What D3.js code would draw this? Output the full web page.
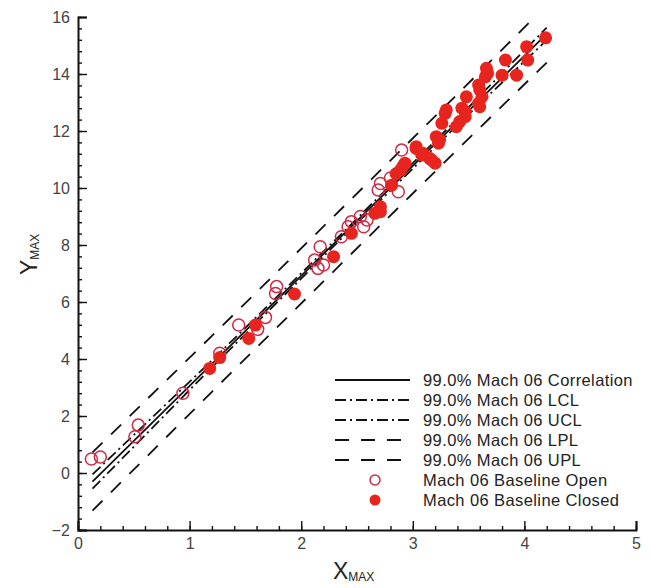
<!DOCTYPE html>
<html>
<head>
<meta charset="utf-8">
<script src="https://cdn.jsdelivr.net/npm/d3@7"></script>
<style>
  body { margin: 0; background: #fff; }
</style>
</head>
<body>
<div id="chart"></div>
<script>
// values
const openX = [0.12, 0.20, 0.51, 0.54, 0.94, 1.27, 1.44, 1.61, 1.68, 1.77, 1.78, 2.12, 2.15, 2.17, 2.20,
  2.36, 2.42, 2.45, 2.53, 2.56, 2.59, 2.69, 2.71, 2.80, 2.87, 2.90];
const openY = [0.49, 0.56, 1.27, 1.68, 2.80, 4.20, 5.19, 5.04, 5.46, 6.30, 6.54, 7.47, 7.18, 7.94, 7.30,
  8.29, 8.64, 8.82, 9.00, 8.64, 8.88, 9.93, 10.16, 10.35, 9.87, 11.33];

const closedX = [1.18, 1.27, 1.53, 1.59, 1.94, 2.29, 2.45, 2.66, 2.71, 2.71, 2.81, 2.85, 2.89, 2.91, 2.93,
  3.03, 3.03, 3.08, 3.09, 3.15, 3.17, 3.20, 3.21, 3.23, 3.24, 3.26, 3.29, 3.30, 3.39, 3.42, 3.44, 3.47,
  3.47, 3.48, 3.59, 3.60, 3.59, 3.60, 3.62, 3.65, 3.66, 3.67, 3.80, 3.83, 3.93, 4.02, 4.03, 4.19];
const closedY = [3.67, 4.05, 4.72, 5.19, 6.28, 7.59, 8.41, 9.11, 9.17, 9.34, 10.10, 10.50, 10.63, 10.75, 10.87,
  11.39, 11.45, 11.16, 11.22, 11.04, 10.98, 10.87, 11.80, 11.57, 11.68, 12.27, 12.62, 12.74, 12.15, 12.33, 12.80, 12.50,
  12.68, 13.20, 12.97, 12.85, 13.61, 13.44, 13.20, 13.90, 14.20, 14.02, 13.96, 14.49, 13.96, 14.96, 14.49, 15.27];

const lineX = [0.13, 1.2, 2.4, 3.4, 4.2];
const corrY = [-0.30, 3.83, 8.46, 12.32, 15.41];
const lclY = [-0.55, 3.71, 8.38, 12.21, 15.19];
const uclY = [-0.05, 3.95, 8.54, 12.43, 15.63];
const lplY = [-1.32, 2.85, 7.50, 11.35, 14.40];
const uplY = [0.72, 4.81, 9.42, 13.29, 16.42];

const xTicks = [0, 1, 2, 3, 4, 5];
const yTicks = [-2, 0, 2, 4, 6, 8, 10, 12, 14, 16];

const legendLabels = ['99.0% Mach 06 Correlation', '99.0% Mach 06 LCL', '99.0% Mach 06 UCL',
  '99.0% Mach 06 LPL', '99.0% Mach 06 UPL', 'Mach 06 Baseline Open', 'Mach 06 Baseline Closed'];

const width = 651, height = 588;
const font = 'Liberation Sans, Arial, Helvetica, sans-serif';
const redFill = '#e8241f';
const openStroke = '#cf2a45';

const dashes = {
  solid: null,
  dashdot: '11,4,2,4',
  dash: '14,12',
};

const svg = d3.select('#chart')
  .append('svg')
  .attr('width', width)
  .attr('height', height)
  .style('font-family', font);

const x = d3.scaleLinear().domain([0, 5]).range([78, 636]);
const y = d3.scaleLinear().domain([-2, 16]).range([530, 17]);

svg.append('clipPath').attr('id', 'plotClip')
  .append('rect')
  .attr('x', x(0)).attr('y', y(16))
  .attr('width', x(5) - x(0)).attr('height', y(-2) - y(16));

// lines
const line = d3.line().x((d) => x(d[0])).y((d) => y(d[1]));
const seriesLines = [
  {ys: corrY, dash: dashes.solid},
  {ys: lclY, dash: dashes.dashdot},
  {ys: uclY, dash: dashes.dashdot},
  {ys: lplY, dash: dashes.dash},
  {ys: uplY, dash: dashes.dash},
];

const lineG = svg.append('g').attr('clip-path', 'url(#plotClip)');
seriesLines.forEach((s) => {
  lineG.append('path')
    .datum(lineX.map((v, i) => [v, s.ys[i]]))
    .attr('d', line)
    .attr('fill', 'none')
    .attr('stroke', '#111')
    .attr('stroke-width', 1.8)
    .attr('stroke-dasharray', s.dash);
});

// points
const pts = svg.append('g');
pts.selectAll('.open')
  .data(openX.map((v, i) => [v, openY[i]]))
  .join('circle')
  .attr('class', 'open')
  .attr('cx', (d) => x(d[0]))
  .attr('cy', (d) => y(d[1]))
  .attr('r', 6)
  .attr('fill', 'none')
  .attr('stroke', openStroke)
  .attr('stroke-width', 1.5);

pts.selectAll('.closed')
  .data(closedX.map((v, i) => [v, closedY[i]]))
  .join('circle')
  .attr('class', 'closed')
  .attr('cx', (d) => x(d[0]))
  .attr('cy', (d) => y(d[1]))
  .attr('r', 6.5)
  .attr('fill', redFill);

// axes
svg.append('g')
  .attr('transform', `translate(0,${y(-2)})`)
  .call(d3.axisBottom(x).tickValues(xTicks).tickSize(-9).tickPadding(8).tickFormat(d3.format('d')));
svg.append('g')
  .attr('transform', `translate(0,${y(-2)})`)
  .call(d3.axisBottom(x).tickValues(d3.range(0, 5.01, 0.2)).tickSize(-4).tickFormat(''))
  .select('.domain').remove();

svg.append('g')
  .attr('transform', `translate(${x(0)},0)`)
  .call(d3.axisLeft(y).tickValues(yTicks).tickSize(-9).tickPadding(8).tickFormat(d3.format('d')));
svg.append('g')
  .attr('transform', `translate(${x(0)},0)`)
  .call(d3.axisLeft(y).tickValues(d3.range(-2, 16.01, 0.4)).tickSize(-4).tickFormat(''))
  .select('.domain').remove();

svg.selectAll('.domain').attr('stroke', '#111').attr('stroke-width', 2);
svg.selectAll('.tick line').attr('stroke', '#111').attr('stroke-width', 1.4);
svg.selectAll('.tick text')
  .attr('font-family', font)
  .attr('font-size', 16)
  .attr('fill', '#444');

// axis titles
const xt = svg.append('text')
  .attr('x', 333).attr('y', 579)
  .attr('font-size', 23)
  .attr('fill', '#222');
xt.append('tspan').text('X');
xt.append('tspan').attr('font-size', 12).attr('dy', 2).text('MAX');

const yt = svg.append('text')
  .attr('transform', 'translate(37,275) rotate(-90)')
  .attr('font-size', 23)
  .attr('fill', '#222');
yt.append('tspan').text('Y');
yt.append('tspan').attr('font-size', 12).attr('dy', 2).text('MAX');

// legend
const legend = svg.append('g');
const rowY = (i) => 380 + i * 20;
const legendDash = [dashes.solid, dashes.dashdot, dashes.dashdot, dashes.dash, dashes.dash];
legendLabels.forEach((lab, i) => {
  if (i < 5) {
    legend.append('line')
      .attr('x1', 335).attr('x2', 410)
      .attr('y1', rowY(i)).attr('y2', rowY(i))
      .attr('stroke', '#111')
      .attr('stroke-width', 1.8)
      .attr('stroke-dasharray', legendDash[i]);
  } else if (i === 5) {
    legend.append('circle')
      .attr('cx', 375).attr('cy', rowY(i))
      .attr('r', 5).attr('fill', 'none')
      .attr('stroke', openStroke).attr('stroke-width', 1.5);
  } else {
    legend.append('circle')
      .attr('cx', 375).attr('cy', rowY(i))
      .attr('r', 5.5).attr('fill', redFill);
  }
  legend.append('text')
    .attr('x', 423).attr('y', rowY(i) + 6)
    .attr('font-size', 16.5)
    .attr('letter-spacing', 0.4)
    .attr('fill', '#222')
    .text(lab);
});
</script>
</body>
</html>
